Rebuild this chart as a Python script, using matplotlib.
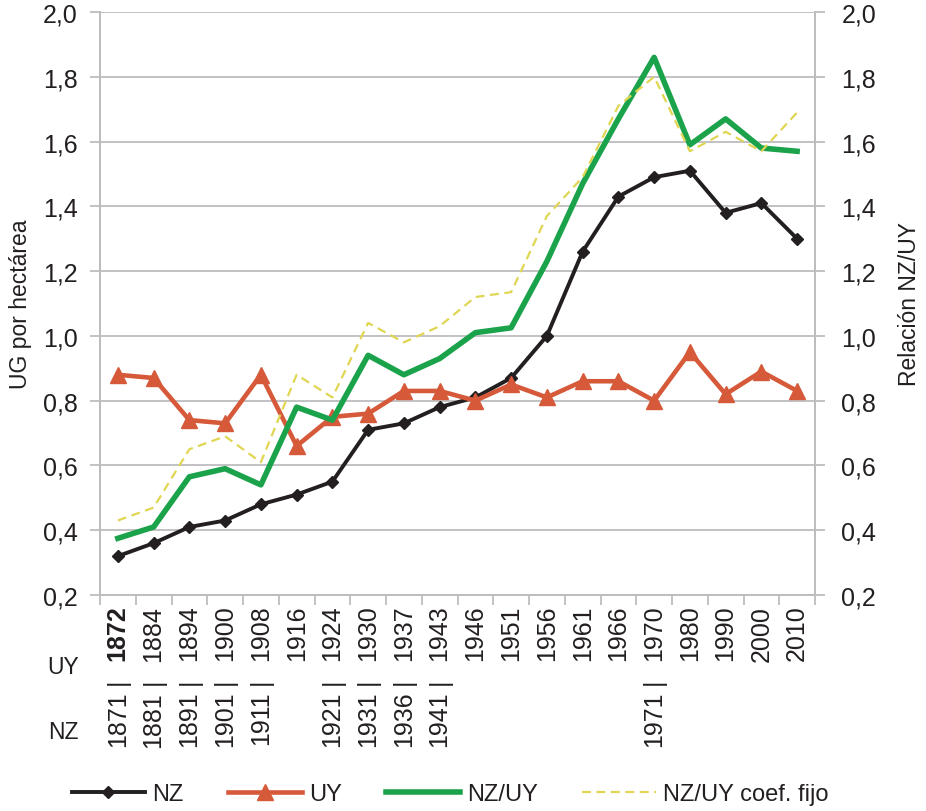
import numpy as np
import matplotlib
matplotlib.use("Agg")
from matplotlib import pyplot as plt

plt.rcParams['font.family'] = ['Liberation Sans', 'DejaVu Sans']

uy_years = ["1872", "1884", "1894", "1900", "1908", "1916", "1924", "1930", "1937", "1943",
            "1946", "1951", "1956", "1961", "1966", "1970", "1980", "1990", "2000", "2010"]
nz_years = ["1871", "1881", "1891", "1901", "1911", "", "1921", "1931", "1936", "1941",
            "", "", "", "", "", "1971", "", "", "", ""]

nz = [0.32, 0.36, 0.41, 0.43, 0.48, 0.51, 0.55, 0.71, 0.73, 0.78,
      0.81, 0.87, 1.00, 1.26, 1.43, 1.49, 1.51, 1.38, 1.41, 1.30]
uy = [0.88, 0.87, 0.74, 0.73, 0.88, 0.66, 0.75, 0.76, 0.83, 0.83,
      0.80, 0.85, 0.81, 0.86, 0.86, 0.80, 0.95, 0.82, 0.89, 0.83]
ratio = [0.375, 0.41, 0.565, 0.59, 0.54, 0.78, 0.74, 0.94, 0.88, 0.93,
         1.01, 1.025, 1.23, 1.47, 1.67, 1.86, 1.59, 1.67, 1.58, 1.57]
ratio_fixed = [0.43, 0.47, 0.65, 0.69, 0.61, 0.88, 0.81, 1.04, 0.98, 1.03,
               1.12, 1.135, 1.37, 1.49, 1.71, 1.80, 1.57, 1.63, 1.57, 1.69]

c_nz = "#231F20"
c_uy = "#D6593A"
c_ratio = "#1BA34B"
c_fixed = "#E0D653"
grid_c = "#BDBDBF"
txt_c = "#231F20"
fs = 16.5      # axis titles, legend
fs_tick = 18   # tick labels

fig = plt.figure(figsize=(9.26, 8.12), dpi=100)
ax = fig.add_axes([100 / 926, 1 - 596 / 812, 715 / 926, 583 / 812])
ax2 = ax.twinx()

x = np.arange(len(uy_years))
yt = np.round(np.arange(0.2, 2.01, 0.2), 1)

for a in (ax, ax2):
    a.set_xlim(-0.5, len(x) - 0.5)
    a.set_ylim(0.2, 2.0)
    a.set_yticks(yt)
    a.set_yticklabels([f"{v:.1f}".replace(".", ",") for v in yt], fontsize=fs_tick, color=txt_c)
    for s in a.spines.values():
        s.set_color(grid_c)
        s.set_linewidth(1.3)
    a.spines["top"].set_visible(False)
    a.tick_params(axis="y", length=7, width=1.3, color=grid_c)
ax.tick_params(axis="y", pad=9)
ax2.tick_params(axis="y", pad=12)

ax.set_axisbelow(True)
ax.yaxis.grid(True, color=grid_c, linewidth=1.3)
ax.set_xticks(np.arange(-0.5, len(x), 1))
ax.set_xticklabels([])
ax.tick_params(axis="x", length=7, width=1.3, color=grid_c)
ax2.tick_params(axis="x", length=0)

l1, = ax.plot(x, nz, color=c_nz, lw=2.8, marker="D", ms=6, label="NZ")
l2, = ax.plot(x, uy, color=c_uy, lw=3.3, marker="^", ms=12, label="UY")
l3, = ax2.plot(x, ratio, color=c_ratio, lw=4.0, label="NZ/UY")
l4, = ax2.plot(x, ratio_fixed, color=c_fixed, lw=1.6, ls=(0, (4, 2.5)), label="NZ/UY coef. fijo")

ax.set_ylabel("UG por hectárea", fontsize=fs, color=txt_c, labelpad=8)
ax2.set_ylabel("Relación NZ/UY", fontsize=fs, color=txt_c, labelpad=16)

# category labels: UY year on top, NZ year below
tr = ax.get_xaxis_transform()
for i in x:
    ax.annotate(uy_years[i], xy=(i, 0), xycoords=tr, xytext=(0, -7), textcoords="offset points",
                rotation=90, ha="center", va="top", fontsize=fs_tick, color=txt_c,
                fontweight="bold" if i == 0 else "normal")
    if nz_years[i]:
        ax.annotate("|", xy=(i, 0), xycoords=tr, xytext=(0, -62), textcoords="offset points",
                    rotation=90, ha="center", va="center", fontsize=fs_tick, color=txt_c)
        ax.annotate(nz_years[i], xy=(i, 0), xycoords=tr, xytext=(0, -69), textcoords="offset points",
                    rotation=90, ha="center", va="top", fontsize=fs_tick, color=txt_c)

fig.text(63 / 926, 1 - 668 / 812, "UY", ha="center", va="center", fontsize=fs, color=txt_c)
fig.text(63 / 926, 1 - 733 / 812, "NZ", ha="center", va="center", fontsize=fs, color=txt_c)

fig.legend(handles=[l1, l2, l3, l4], loc="center", bbox_to_anchor=(0.486, 0.021), ncol=4,
           frameon=False, fontsize=17, numpoints=1, handlelength=3.1, handletextpad=0.3,
           columnspacing=1.9, labelcolor=txt_c)

fig.savefig("out.png", dpi=100)
